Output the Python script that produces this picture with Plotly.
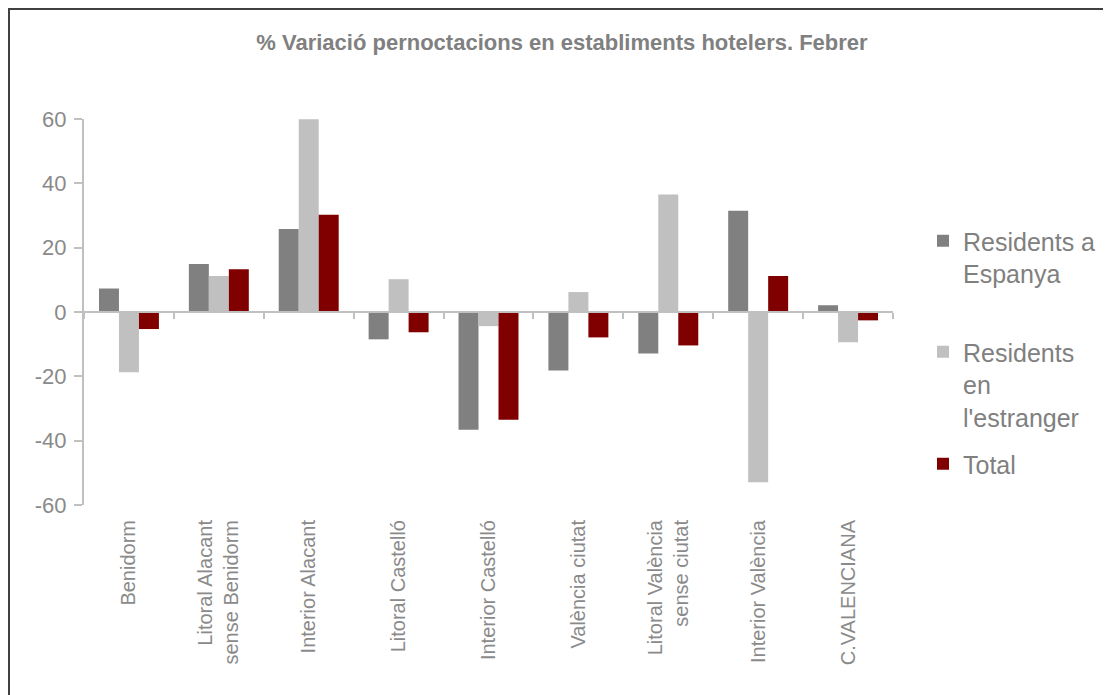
import plotly.graph_objects as go

categories = ["Benidorm", "Litoral Alacant<br>sense Benidorm", "Interior Alacant", "Litoral Castelló",
              "Interior Castelló", "València ciutat", "Litoral València<br>sense ciutat",
              "Interior València", "C.VALENCIANA"]
residents_espanya = [7.3, 14.9, 25.8, -8.5, -36.6, -18.2, -12.9, 31.5, 2.1]
residents_estranger = [-18.7, 11.2, 59.9, 10.2, -4.4, 6.2, 36.5, -52.9, -9.4]
total = [-5.3, 13.3, 30.2, -6.3, -33.5, -7.9, -10.4, 11.2, -2.6]
series_names = ["Residents a<br>Espanya", "Residents<br>en<br>l'estranger", "Total"]
series_colors = ["#808080", "#C0C0C0", "#800000"]
y_ticks = [-60, -40, -20, 0, 20, 40, 60]
y_tick_text = [str(v) for v in y_ticks]

FONT = "Liberation Sans, Arial, sans-serif"
GRAY = "#8a8a8a"
AXIS = "#c0c0c0"

fig = go.Figure()
legends = ["legend", "legend2", "legend3"]
for vals, name, col, lg in zip([residents_espanya, residents_estranger, total], series_names, series_colors, legends):
    fig.add_trace(go.Bar(x=categories, y=vals, name=name, marker=dict(color=col, line=dict(width=0)),
                         legend=lg, xaxis="x", yaxis="y"))

# invisible trace to carry the zero-line category axis
fig.add_trace(go.Scatter(x=categories, y=[0] * len(categories), mode="markers",
                         marker=dict(opacity=0), showlegend=False, hoverinfo="skip",
                         xaxis="x2", yaxis="y"))

OFF = 8  # page body margin
W, H = 1111, 695
L, R, T, B = 84 - OFF, 893 - OFF, 119 - OFF, 505 - OFF

def px_x(p):
    return (p - OFF - L) / (R - L)

def px_y(p):
    return (B - (p - OFF)) / (B - T)

leg_common = dict(font=dict(family=FONT, size=25, color="#808080"), xanchor="left", yanchor="top",
                  bgcolor="rgba(0,0,0,0)", valign="top", itemclick=False)

fig.update_layout(
    width=W, height=H,
    margin=dict(l=L, r=W - R, t=T, b=H - B, pad=0),
    paper_bgcolor="white", plot_bgcolor="white",
    barmode="group", bargap=0.333, bargroupgap=0,
    title=dict(text="<b>% Variació pernoctacions en establiments hotelers. Febrer</b>",
               font=dict(family=FONT, size=22, color="#808080"),
               x=px_x(562), xref="paper", xanchor="center", y=1 - (42 - OFF) / H, yanchor="middle"),
    xaxis=dict(type="category", range=[-0.5, 8.5], showline=False, ticks="", showgrid=False,
               tickangle=-90, ticklabelstandoff=10,
               tickfont=dict(family=FONT, size=20, color=GRAY), zeroline=False),
    xaxis2=dict(type="category", range=[-0.5, 8.5], overlaying="x", anchor="free", position=0.5,
                side="bottom", showline=True, linecolor=AXIS, linewidth=2, ticks="outside",
                tickson="boundaries", ticklen=6, tickcolor=AXIS, tickwidth=1.5,
                showticklabels=False, showgrid=False, zeroline=False),
    yaxis=dict(range=[-60, 60], tickvals=y_ticks, ticktext=y_tick_text, showline=True, linecolor=AXIS,
               linewidth=2, ticks="outside", ticklen=8, tickcolor=AXIS, tickwidth=1.5, showgrid=False,
               zeroline=False, ticklabelstandoff=3, tickfont=dict(family=FONT, size=22, color=GRAY)),
    legend=dict(x=px_x(923), y=px_y(218), **leg_common),
    legend2=dict(x=px_x(923), y=px_y(329), **leg_common),
    legend3=dict(x=px_x(923), y=px_y(441), **leg_common),
    showlegend=True,
)

# outer chart border (top and left edges visible)
fig.add_shape(type="line", xref="paper", yref="paper", x0=px_x(8), x1=px_x(W + 20), y0=px_y(9), y1=px_y(9),
              line=dict(color="#404040", width=2))
fig.add_shape(type="line", xref="paper", yref="paper", x0=px_x(9), x1=px_x(9), y0=px_y(8), y1=px_y(H + 20),
              line=dict(color="#404040", width=2))

fig.write_html("out.html")
